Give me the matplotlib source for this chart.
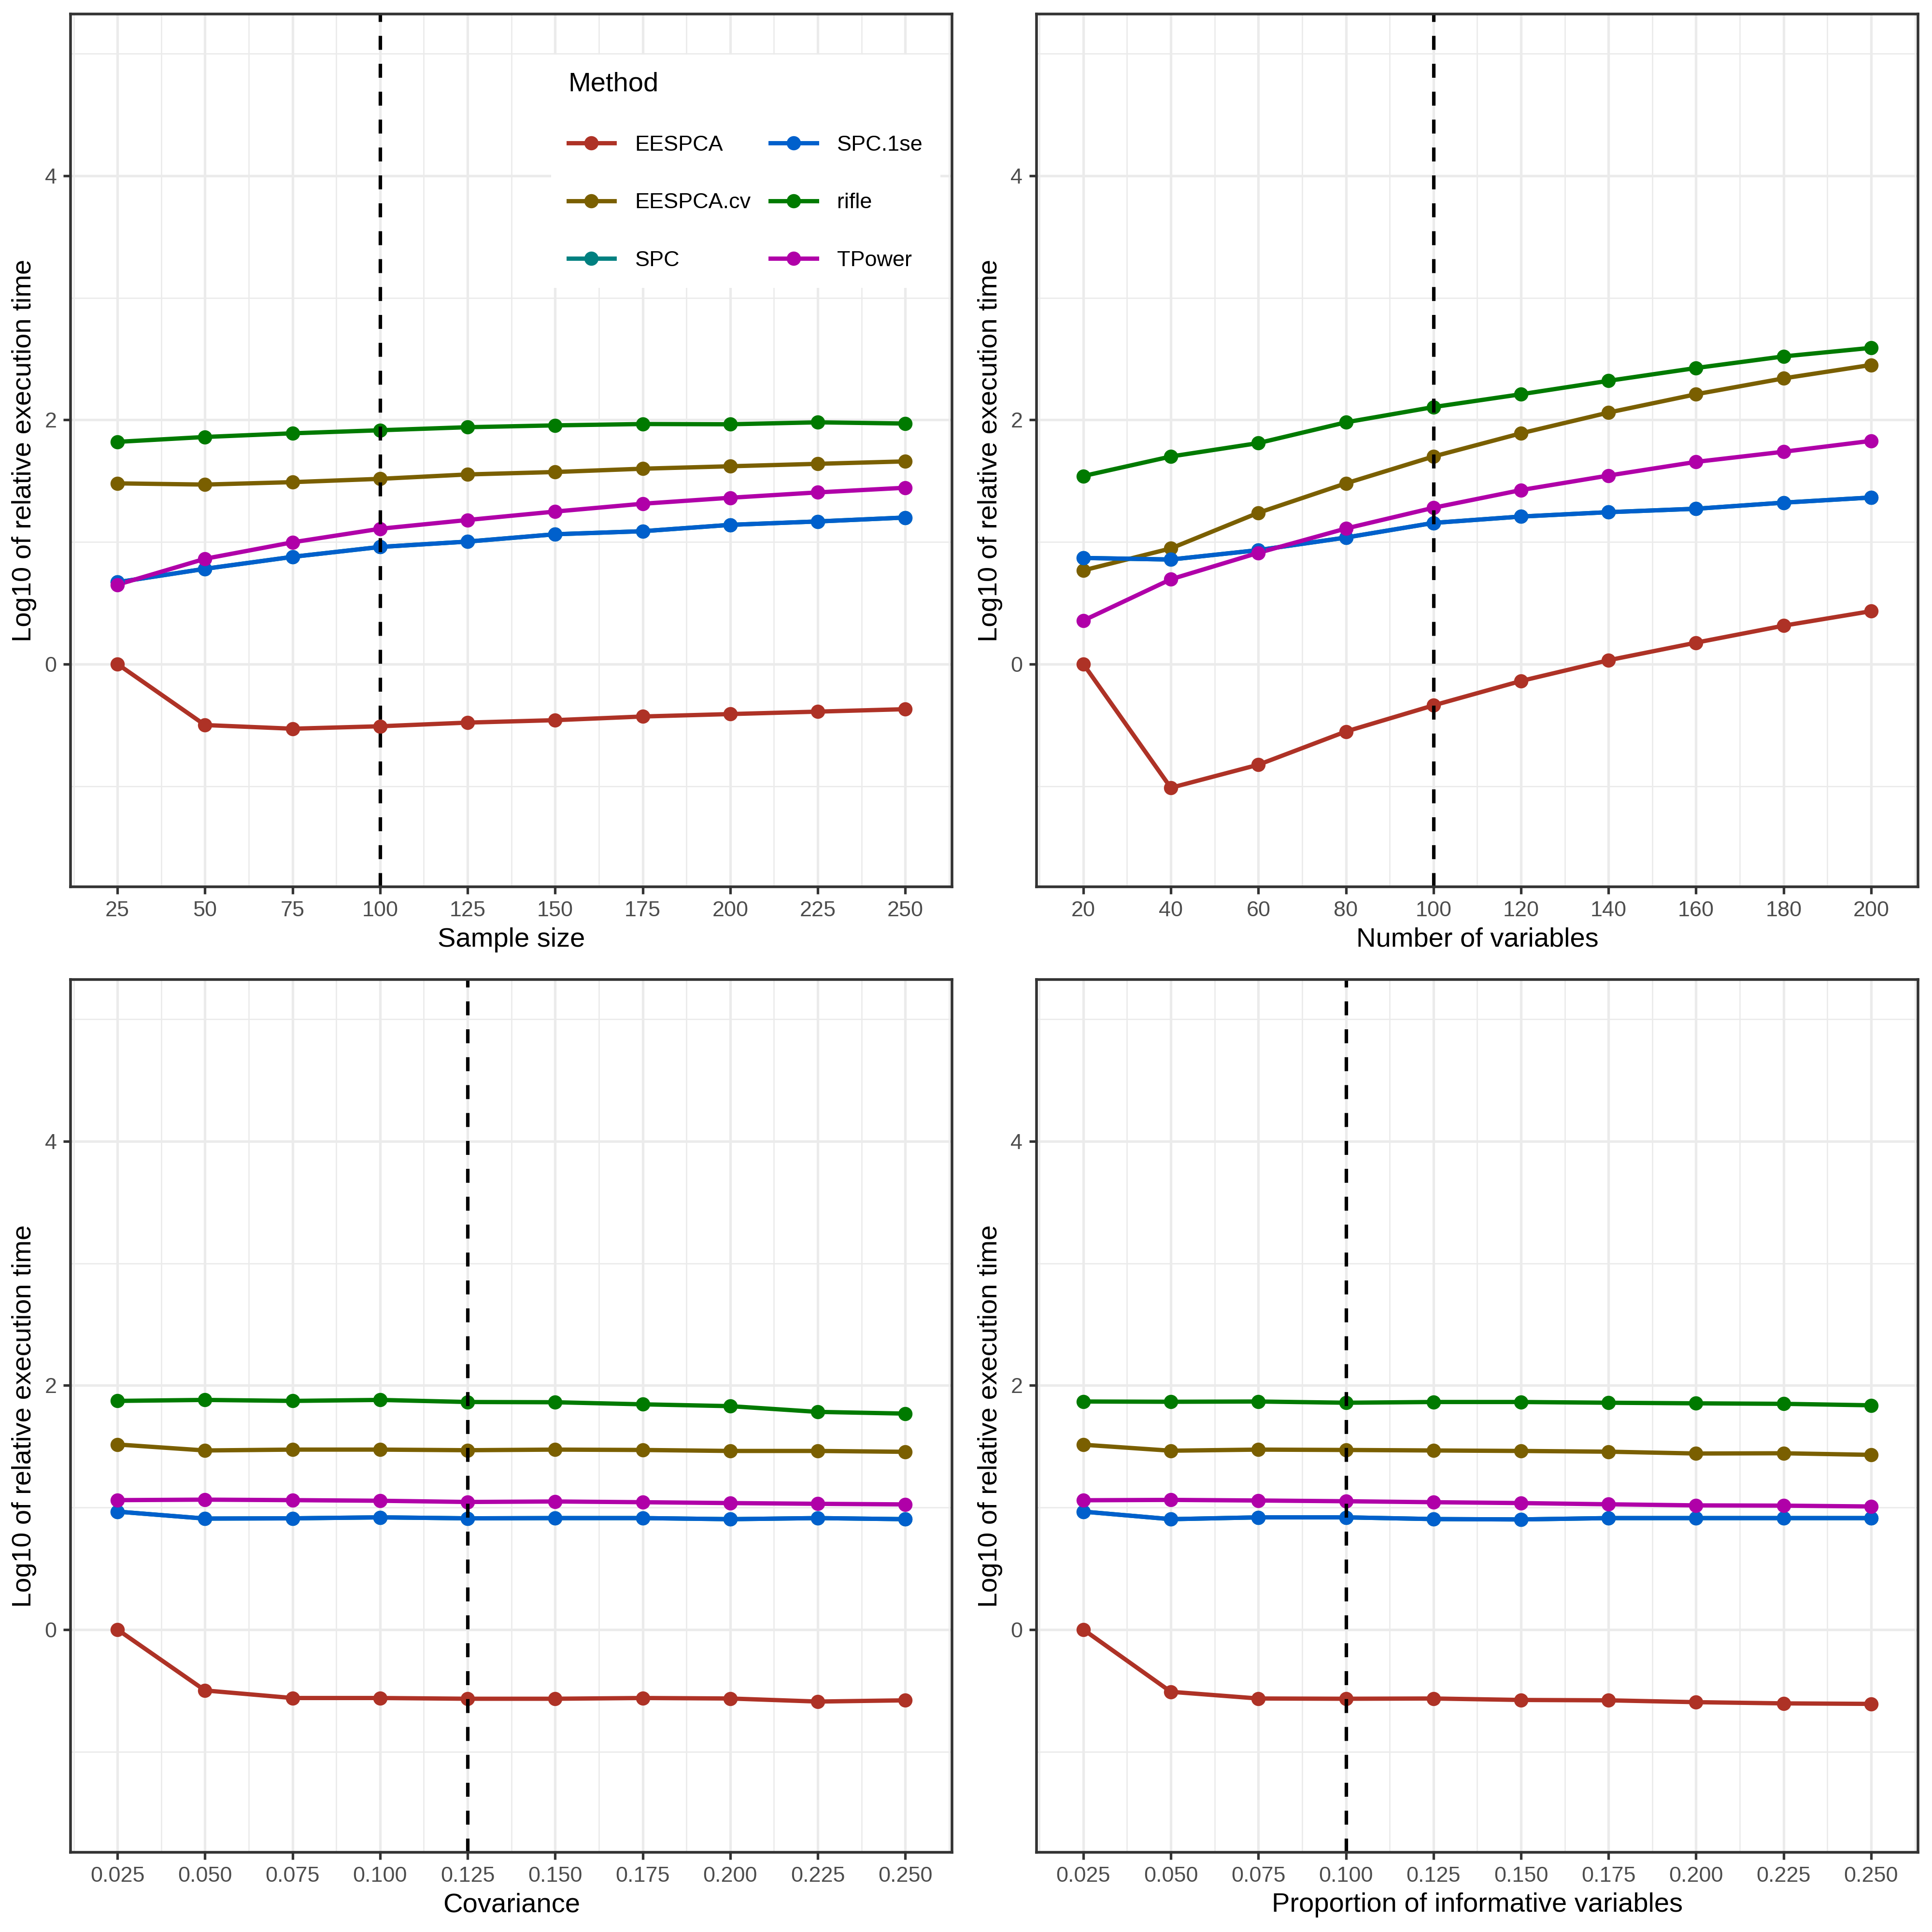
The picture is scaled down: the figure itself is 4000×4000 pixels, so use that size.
import matplotlib
matplotlib.use("Agg")
import matplotlib.pyplot as plt
from matplotlib.lines import Line2D
import numpy as np

plt.rcParams['font.family'] = ['Liberation Sans', 'DejaVu Sans']

methods = ["EESPCA", "EESPCA.cv", "SPC", "SPC.1se", "rifle", "TPower"]
colors = {"EESPCA": "#AE3226", "EESPCA.cv": "#7A5F00", "SPC": "#008080",
          "SPC.1se": "#0060CC", "rifle": "#007A00", "TPower": "#B000A8"}

# Panel 1: sample size
x_n = [25, 50, 75, 100, 125, 150, 175, 200, 225, 250]
n_vals = {
    "EESPCA":    [0.00, -0.50, -0.53, -0.51, -0.48, -0.46, -0.43, -0.41, -0.39, -0.37],
    "EESPCA.cv": [1.48, 1.47, 1.49, 1.517, 1.553, 1.573, 1.60, 1.62, 1.64, 1.66],
    "SPC":       [0.67, 0.78, 0.878, 0.959, 1.003, 1.063, 1.088, 1.14, 1.168, 1.20],
    "SPC.1se":   [0.67, 0.78, 0.878, 0.959, 1.003, 1.063, 1.088, 1.14, 1.168, 1.20],
    "rifle":     [1.82, 1.86, 1.89, 1.915, 1.94, 1.955, 1.966, 1.964, 1.98, 1.97],
    "TPower":    [0.65, 0.862, 0.997, 1.108, 1.18, 1.249, 1.313, 1.362, 1.406, 1.444],
}
# Panel 2: number of variables
x_p = [20, 40, 60, 80, 100, 120, 140, 160, 180, 200]
p_vals = {
    "EESPCA":    [0.00, -1.014, -0.825, -0.553, -0.339, -0.139, 0.031, 0.175, 0.314, 0.433],
    "EESPCA.cv": [0.767, 0.947, 1.239, 1.48, 1.70, 1.89, 2.06, 2.21, 2.34, 2.45],
    "SPC":       [0.869, 0.856, 0.933, 1.036, 1.156, 1.208, 1.244, 1.272, 1.322, 1.364],
    "SPC.1se":   [0.869, 0.856, 0.933, 1.036, 1.156, 1.208, 1.244, 1.272, 1.322, 1.364],
    "rifle":     [1.54, 1.70, 1.81, 1.98, 2.105, 2.21, 2.32, 2.425, 2.52, 2.59],
    "TPower":    [0.356, 0.694, 0.911, 1.11, 1.28, 1.425, 1.544, 1.656, 1.739, 1.828],
}
# Panel 3: covariance
x_cov = [0.025, 0.050, 0.075, 0.100, 0.125, 0.150, 0.175, 0.200, 0.225, 0.250]
cov_vals = {
    "EESPCA":    [0.00, -0.499, -0.561, -0.561, -0.567, -0.567, -0.561, -0.565, -0.59, -0.58],
    "EESPCA.cv": [1.516, 1.467, 1.474, 1.474, 1.469, 1.474, 1.471, 1.463, 1.463, 1.456],
    "SPC":       [0.966, 0.909, 0.911, 0.919, 0.911, 0.913, 0.913, 0.904, 0.913, 0.904],
    "SPC.1se":   [0.966, 0.909, 0.911, 0.919, 0.911, 0.913, 0.913, 0.904, 0.913, 0.904],
    "rifle":     [1.873, 1.881, 1.873, 1.881, 1.864, 1.862, 1.845, 1.83, 1.783, 1.769],
    "TPower":    [1.06, 1.064, 1.06, 1.055, 1.045, 1.049, 1.043, 1.036, 1.03, 1.025],
}
# Panel 4: proportion of informative variables
x_prop = [0.025, 0.050, 0.075, 0.100, 0.125, 0.150, 0.175, 0.200, 0.225, 0.250]
prop_vals = {
    "EESPCA":    [0.00, -0.51, -0.565, -0.567, -0.565, -0.577, -0.58, -0.595, -0.605, -0.609],
    "EESPCA.cv": [1.514, 1.465, 1.474, 1.471, 1.467, 1.463, 1.457, 1.442, 1.444, 1.431],
    "SPC":       [0.966, 0.904, 0.919, 0.919, 0.905, 0.902, 0.913, 0.913, 0.913, 0.913],
    "SPC.1se":   [0.966, 0.904, 0.919, 0.919, 0.905, 0.902, 0.913, 0.913, 0.913, 0.913],
    "rifle":     [1.868, 1.866, 1.868, 1.858, 1.864, 1.864, 1.858, 1.853, 1.849, 1.837],
    "TPower":    [1.059, 1.062, 1.057, 1.051, 1.043, 1.036, 1.026, 1.017, 1.015, 1.008],
}

panels = [
    (x_n, n_vals, "Sample size", 100, [str(v) for v in x_n]),
    (x_p, p_vals, "Number of variables", 100, [str(v) for v in x_p]),
    (x_cov, cov_vals, "Covariance", 0.125, ["%.3f" % v for v in x_cov]),
    (x_prop, prop_vals, "Proportion of informative variables", 0.100, ["%.3f" % v for v in x_prop]),
]

ylabel = "Log10 of relative execution time"

fig = plt.figure(figsize=(10, 10), dpi=400)
W = 0.4562
H = 0.45175
positions = [(0.03658, 0.5410), (0.5365, 0.5410), (0.03658, 0.04125), (0.5365, 0.04125)]

grey20 = "#333333"
grey30 = "#4D4D4D"
grid_c = "#EBEBEB"

TICK_FS = 8.1
TITLE_FS = 10.1
LW = 1.6
MS = 5.3

axes = []
for (pos, (xs, vals, xlabel, vline, xtl)) in zip(positions, panels):
    ax = fig.add_axes([pos[0], pos[1], W, H])
    axes.append(ax)
    xs = np.array(xs, dtype=float)
    step = xs[1] - xs[0]
    rng = xs[-1] - xs[0]
    m = 0.0594 * rng
    ax.set_xlim(xs[0] - m, xs[-1] + m)
    ax.set_ylim(-1.825, 5.325)

    # grid
    minor_x = np.arange(xs[0] - step / 2, xs[-1] + step, step)
    for mx in minor_x:
        ax.axvline(mx, color=grid_c, lw=0.5, zorder=0)
    for my in [-1, 1, 3, 5]:
        ax.axhline(my, color=grid_c, lw=0.5, zorder=0)
    for mx in xs:
        ax.axvline(mx, color=grid_c, lw=0.95, zorder=0.5)
    for my in [0, 2, 4]:
        ax.axhline(my, color=grid_c, lw=0.95, zorder=0.5)

    for meth in methods:
        ax.plot(xs, vals[meth], color=colors[meth], lw=LW, zorder=2,
                solid_capstyle='butt')
    for meth in methods:
        ax.plot(xs, vals[meth], linestyle='none', marker='o', markersize=MS,
                markeredgewidth=0, color=colors[meth], zorder=3)

    ax.axvline(vline, color='black', lw=1.3, linestyle=(0, (4, 4)), zorder=4)

    ax.set_xticks(xs)
    ax.set_xticklabels(xtl)
    ax.set_yticks([0, 2, 4])
    ax.set_yticklabels(["0", "2", "4"])
    ax.tick_params(axis='both', which='major', length=2.75, width=0.95,
                   color=grey20, labelsize=TICK_FS, labelcolor=grey30, pad=2.4)
    for sp in ax.spines.values():
        sp.set_color(grey20)
        sp.set_linewidth(1.0)
        sp.set_zorder(5)
    ax.set_xlabel(xlabel, fontsize=TITLE_FS, color='black', labelpad=2.5)
    ax.set_ylabel(ylabel, fontsize=TITLE_FS, color='black', labelpad=3)

# legend in first panel
handles = [Line2D([0], [0], color=colors[m_], lw=LW, marker='o', markersize=MS,
                  markeredgewidth=0) for m_ in methods]
leg = axes[0].legend(handles, methods, title="Method", ncol=2, loc='upper right',
                     bbox_to_anchor=(0.999, 0.966), fontsize=TICK_FS, title_fontsize=TITLE_FS,
                     frameon=True, fancybox=False, facecolor='white', edgecolor='none',
                     framealpha=1.0, borderpad=0.8, labelspacing=1.75,
                     handlelength=2.13, handletextpad=0.94, columnspacing=0.89,
                     numpoints=1, alignment='left')
leg.set_zorder(10)

fig.savefig("out.png", dpi=400)
